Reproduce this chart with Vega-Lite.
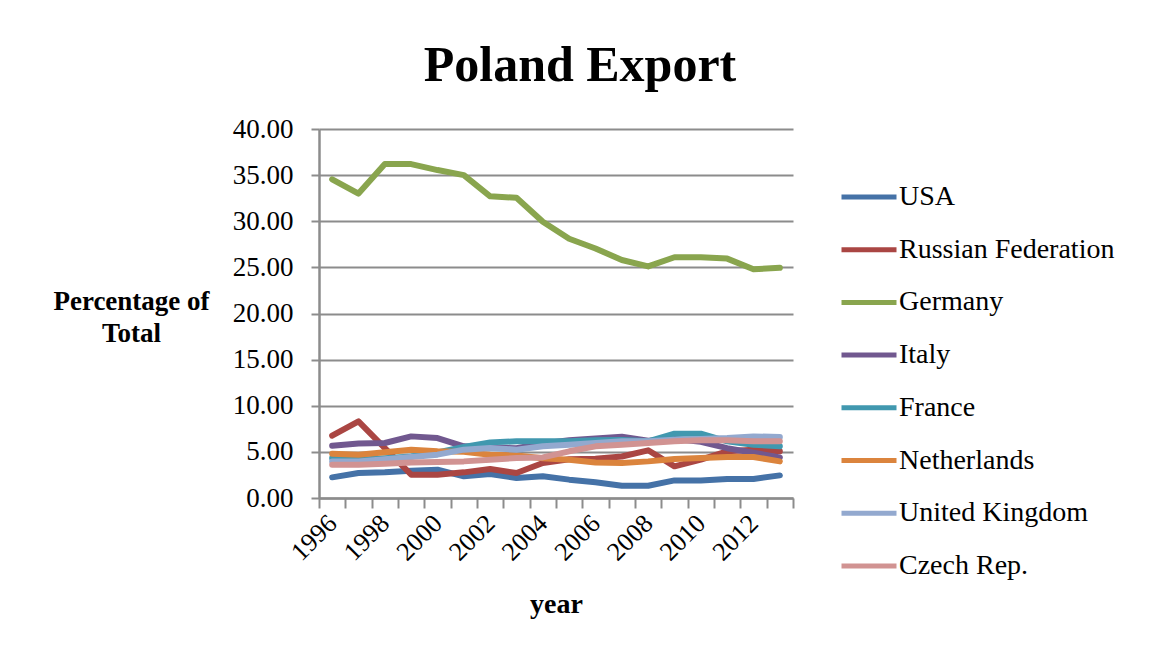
{
  "$schema": "https://vega.github.io/schema/vega-lite/v6.json",
  "width": 474,
  "height": 369,
  "autosize": {"type": "none"},
  "padding": {"left": 319, "top": 129, "right": 364, "bottom": 157},
  "background": "white",
  "title": {
    "text": "Poland Export",
    "font": "Liberation Serif",
    "fontSize": 50,
    "fontWeight": "bold",
    "color": "black",
    "anchor": "middle",
    "dx": 24,
    "offset": 24
  },
  "data": {
    "values": [
      {"year": 1996, "country": "USA", "value": 2.24},
      {"year": 1997, "country": "USA", "value": 2.71},
      {"year": 1998, "country": "USA", "value": 2.78},
      {"year": 1999, "country": "USA", "value": 2.96},
      {"year": 2000, "country": "USA", "value": 3.07},
      {"year": 2001, "country": "USA", "value": 2.35},
      {"year": 2002, "country": "USA", "value": 2.6},
      {"year": 2003, "country": "USA", "value": 2.17},
      {"year": 2004, "country": "USA", "value": 2.35},
      {"year": 2005, "country": "USA", "value": 1.99},
      {"year": 2006, "country": "USA", "value": 1.7},
      {"year": 2007, "country": "USA", "value": 1.33},
      {"year": 2008, "country": "USA", "value": 1.33},
      {"year": 2009, "country": "USA", "value": 1.91},
      {"year": 2010, "country": "USA", "value": 1.91},
      {"year": 2011, "country": "USA", "value": 2.06},
      {"year": 2012, "country": "USA", "value": 2.06},
      {"year": 2013, "country": "USA", "value": 2.45},
      {"year": 1996, "country": "Russian Federation", "value": 6.75},
      {"year": 1997, "country": "Russian Federation", "value": 8.3},
      {"year": 1998, "country": "Russian Federation", "value": 5.4},
      {"year": 1999, "country": "Russian Federation", "value": 2.53},
      {"year": 2000, "country": "Russian Federation", "value": 2.53},
      {"year": 2001, "country": "Russian Federation", "value": 2.78},
      {"year": 2002, "country": "Russian Federation", "value": 3.14},
      {"year": 2003, "country": "Russian Federation", "value": 2.71},
      {"year": 2004, "country": "Russian Federation", "value": 3.8},
      {"year": 2005, "country": "Russian Federation", "value": 4.2},
      {"year": 2006, "country": "Russian Federation", "value": 4.25},
      {"year": 2007, "country": "Russian Federation", "value": 4.5},
      {"year": 2008, "country": "Russian Federation", "value": 5.17},
      {"year": 2009, "country": "Russian Federation", "value": 3.43},
      {"year": 2010, "country": "Russian Federation", "value": 4.15},
      {"year": 2011, "country": "Russian Federation", "value": 5.06},
      {"year": 2012, "country": "Russian Federation", "value": 5.24},
      {"year": 2013, "country": "Russian Federation", "value": 5.06},
      {"year": 1996, "country": "Germany", "value": 34.55},
      {"year": 1997, "country": "Germany", "value": 33.0},
      {"year": 1998, "country": "Germany", "value": 36.2},
      {"year": 1999, "country": "Germany", "value": 36.2},
      {"year": 2000, "country": "Germany", "value": 35.55},
      {"year": 2001, "country": "Germany", "value": 35.0},
      {"year": 2002, "country": "Germany", "value": 32.7},
      {"year": 2003, "country": "Germany", "value": 32.55},
      {"year": 2004, "country": "Germany", "value": 29.95},
      {"year": 2005, "country": "Germany", "value": 28.1},
      {"year": 2006, "country": "Germany", "value": 27.05},
      {"year": 2007, "country": "Germany", "value": 25.8},
      {"year": 2008, "country": "Germany", "value": 25.1},
      {"year": 2009, "country": "Germany", "value": 26.1},
      {"year": 2010, "country": "Germany", "value": 26.1},
      {"year": 2011, "country": "Germany", "value": 25.95},
      {"year": 2012, "country": "Germany", "value": 24.8},
      {"year": 2013, "country": "Germany", "value": 24.95},
      {"year": 1996, "country": "Italy", "value": 5.67},
      {"year": 1997, "country": "Italy", "value": 5.9},
      {"year": 1998, "country": "Italy", "value": 5.96},
      {"year": 1999, "country": "Italy", "value": 6.68},
      {"year": 2000, "country": "Italy", "value": 6.5},
      {"year": 2001, "country": "Italy", "value": 5.6},
      {"year": 2002, "country": "Italy", "value": 5.5},
      {"year": 2003, "country": "Italy", "value": 5.4},
      {"year": 2004, "country": "Italy", "value": 5.9},
      {"year": 2005, "country": "Italy", "value": 6.25},
      {"year": 2006, "country": "Italy", "value": 6.45},
      {"year": 2007, "country": "Italy", "value": 6.65},
      {"year": 2008, "country": "Italy", "value": 6.2},
      {"year": 2009, "country": "Italy", "value": 6.4},
      {"year": 2010, "country": "Italy", "value": 6.1},
      {"year": 2011, "country": "Italy", "value": 5.4},
      {"year": 2012, "country": "Italy", "value": 4.9},
      {"year": 2013, "country": "Italy", "value": 4.4},
      {"year": 1996, "country": "France", "value": 4.34},
      {"year": 1997, "country": "France", "value": 4.15},
      {"year": 1998, "country": "France", "value": 4.3},
      {"year": 1999, "country": "France", "value": 4.5},
      {"year": 2000, "country": "France", "value": 4.95},
      {"year": 2001, "country": "France", "value": 5.53},
      {"year": 2002, "country": "France", "value": 6.03},
      {"year": 2003, "country": "France", "value": 6.14},
      {"year": 2004, "country": "France", "value": 6.14},
      {"year": 2005, "country": "France", "value": 6.14},
      {"year": 2006, "country": "France", "value": 6.25},
      {"year": 2007, "country": "France", "value": 6.3},
      {"year": 2008, "country": "France", "value": 6.14},
      {"year": 2009, "country": "France", "value": 6.97},
      {"year": 2010, "country": "France", "value": 6.97},
      {"year": 2011, "country": "France", "value": 6.14},
      {"year": 2012, "country": "France", "value": 5.78},
      {"year": 2013, "country": "France", "value": 5.6},
      {"year": 1996, "country": "Netherlands", "value": 4.8},
      {"year": 1997, "country": "Netherlands", "value": 4.7},
      {"year": 1998, "country": "Netherlands", "value": 4.95},
      {"year": 1999, "country": "Netherlands", "value": 5.24},
      {"year": 2000, "country": "Netherlands", "value": 5.06},
      {"year": 2001, "country": "Netherlands", "value": 5.0},
      {"year": 2002, "country": "Netherlands", "value": 4.7},
      {"year": 2003, "country": "Netherlands", "value": 4.6},
      {"year": 2004, "country": "Netherlands", "value": 4.3},
      {"year": 2005, "country": "Netherlands", "value": 4.15},
      {"year": 2006, "country": "Netherlands", "value": 3.86},
      {"year": 2007, "country": "Netherlands", "value": 3.8},
      {"year": 2008, "country": "Netherlands", "value": 3.97},
      {"year": 2009, "country": "Netherlands", "value": 4.23},
      {"year": 2010, "country": "Netherlands", "value": 4.34},
      {"year": 2011, "country": "Netherlands", "value": 4.45},
      {"year": 2012, "country": "Netherlands", "value": 4.45},
      {"year": 2013, "country": "Netherlands", "value": 3.97},
      {"year": 1996, "country": "United Kingdom", "value": 3.97},
      {"year": 1997, "country": "United Kingdom", "value": 3.97},
      {"year": 1998, "country": "United Kingdom", "value": 4.2},
      {"year": 1999, "country": "United Kingdom", "value": 4.45},
      {"year": 2000, "country": "United Kingdom", "value": 4.7},
      {"year": 2001, "country": "United Kingdom", "value": 5.24},
      {"year": 2002, "country": "United Kingdom", "value": 5.42},
      {"year": 2003, "country": "United Kingdom", "value": 5.24},
      {"year": 2004, "country": "United Kingdom", "value": 5.6},
      {"year": 2005, "country": "United Kingdom", "value": 5.78},
      {"year": 2006, "country": "United Kingdom", "value": 5.96},
      {"year": 2007, "country": "United Kingdom", "value": 6.14},
      {"year": 2008, "country": "United Kingdom", "value": 6.14},
      {"year": 2009, "country": "United Kingdom", "value": 6.32},
      {"year": 2010, "country": "United Kingdom", "value": 6.4},
      {"year": 2011, "country": "United Kingdom", "value": 6.5},
      {"year": 2012, "country": "United Kingdom", "value": 6.68},
      {"year": 2013, "country": "United Kingdom", "value": 6.6},
      {"year": 1996, "country": "Czech Rep.", "value": 3.61},
      {"year": 1997, "country": "Czech Rep.", "value": 3.61},
      {"year": 1998, "country": "Czech Rep.", "value": 3.72},
      {"year": 1999, "country": "Czech Rep.", "value": 3.86},
      {"year": 2000, "country": "Czech Rep.", "value": 3.9},
      {"year": 2001, "country": "Czech Rep.", "value": 3.97},
      {"year": 2002, "country": "Czech Rep.", "value": 4.15},
      {"year": 2003, "country": "Czech Rep.", "value": 4.34},
      {"year": 2004, "country": "Czech Rep.", "value": 4.4},
      {"year": 2005, "country": "Czech Rep.", "value": 5.06},
      {"year": 2006, "country": "Czech Rep.", "value": 5.6},
      {"year": 2007, "country": "Czech Rep.", "value": 5.78},
      {"year": 2008, "country": "Czech Rep.", "value": 5.96},
      {"year": 2009, "country": "Czech Rep.", "value": 6.14},
      {"year": 2010, "country": "Czech Rep.", "value": 6.25},
      {"year": 2011, "country": "Czech Rep.", "value": 6.25},
      {"year": 2012, "country": "Czech Rep.", "value": 6.14},
      {"year": 2013, "country": "Czech Rep.", "value": 6.14}
    ]
  },
  "mark": {"type": "line", "strokeWidth": 6, "strokeCap": "round", "strokeJoin": "round"},
  "encoding": {
    "x": {
      "field": "year",
      "type": "ordinal",
      "scale": {"type": "band", "paddingInner": 0, "paddingOuter": 0},
      "axis": {
        "title": "year",
        "titleFont": "Liberation Serif",
        "titleFontSize": 28,
        "titleFontWeight": "bold",
        "titleColor": "black",
        "titleBaseline": "alphabetic",
        "titleY": 114,
        "labelExpr": "datum.value % 2 == 0 ? datum.label : ''",
        "labelAngle": -45,
        "labelAlign": "right",
        "labelBaseline": "middle",
        "labelFont": "Liberation Serif",
        "labelFontSize": 26,
        "labelColor": "black",
        "labelPadding": 11,
        "labelOverlap": false,
        "labelBound": false,
        "tickBand": "extent",
        "tickSize": 10,
        "tickWidth": 2,
        "tickColor": "#8c8c8c",
        "domainColor": "#8c8c8c",
        "domainWidth": 2.5,
        "grid": false
      }
    },
    "y": {
      "field": "value",
      "type": "quantitative",
      "scale": {"domain": [0, 40], "nice": false},
      "axis": {
        "values": [0, 5, 10, 15, 20, 25, 30, 35, 40],
        "format": ".2f",
        "title": ["Percentage of", "Total"],
        "titleAngle": 0,
        "titleAlign": "center",
        "titleBaseline": "alphabetic",
        "titleX": -188,
        "titleY": 180,
        "titleLineHeight": 32,
        "titleFont": "Liberation Serif",
        "titleFontSize": 27,
        "titleFontWeight": "bold",
        "titleColor": "black",
        "labelFont": "Liberation Serif",
        "labelFontSize": 27,
        "labelColor": "black",
        "labelPadding": 18,
        "tickSize": 8,
        "tickWidth": 2,
        "tickColor": "#8c8c8c",
        "domainColor": "#8c8c8c",
        "domainWidth": 2.5,
        "grid": true,
        "gridColor": "#8c8c8c",
        "gridWidth": 2
      }
    },
    "color": {
      "field": "country",
      "type": "nominal",
      "scale": {
        "domain": ["USA", "Russian Federation", "Germany", "Italy", "France", "Netherlands", "United Kingdom", "Czech Rep."],
        "range": ["#4572A7", "#AA4643", "#89A54E", "#71588F", "#4198AF", "#DB843D", "#93A9CF", "#D19392"]
      },
      "legend": {
        "title": null,
        "orient": "none",
        "legendX": 520,
        "legendY": 38,
        "symbolType": "stroke",
        "symbolSize": 3025,
        "symbolStrokeWidth": 5,
        "labelFont": "Liberation Serif",
        "labelFontSize": 28,
        "labelColor": "black",
        "labelOffset": 0,
        "rowPadding": 8.7,
        "labelLimit": 400
      }
    }
  },
  "config": {"view": {"stroke": null}}
}
